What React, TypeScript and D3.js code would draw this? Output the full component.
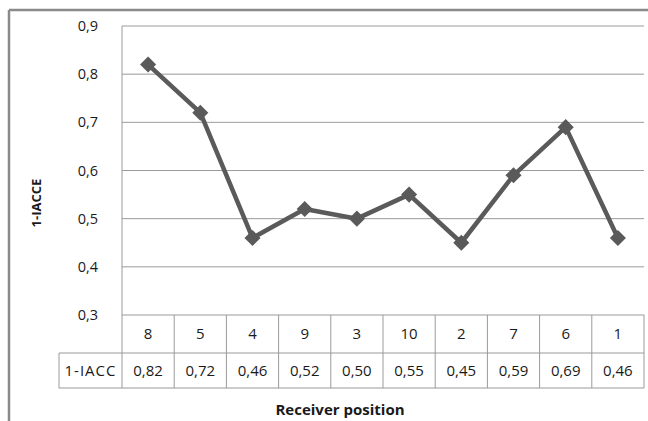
import React from "react";
import * as d3 from "d3";

const categories = ["8", "5", "4", "9", "3", "10", "2", "7", "6", "1"];
const values = [0.82, 0.72, 0.46, 0.52, 0.5, 0.55, 0.45, 0.59, 0.69, 0.46];
const valueLabels = ["0,82", "0,72", "0,46", "0,52", "0,50", "0,55", "0,45", "0,59", "0,69", "0,46"];
const yTicks = [0.3, 0.4, 0.5, 0.6, 0.7, 0.8, 0.9];
const seriesName = "1-IACC";
const yTitle = "1-IACCE";
const xTitle = "Receiver position";

const W = 648, H = 421;
const left = 122, right = 644, top = 26, bottom = 315;
const row1 = 353, row2 = 388, labelLeft = 59;
const font = "'Open Sans', 'DejaVu Sans', sans-serif";

export default function App() {
  const x = d3.scaleBand<string>().domain(categories).range([left, right]);
  const y = d3.scaleLinear().domain([0.3, 0.9]).range([bottom, top]);
  const line = d3.line<number>().x((_, i) => x(categories[i])! + x.bandwidth() / 2).y((d) => y(d));
  const diamond = d3.symbol().type(d3.symbolDiamond2).size(165)();
  const grid = "#9a9a9a";
  const txt = "#1a1a1a";
  return (
    <svg width={W} height={H} style={{ position: "absolute", left: 0, top: 0, background: "#fff" }} fontFamily={font}>
      <rect x={0} y={0} width={W} height={H} fill="#fff" />
      <line x1={9} y1={10} x2={W} y2={10} stroke="#8a8a8a" strokeWidth={2.5} />
      <line x1={9} y1={10} x2={9} y2={H} stroke="#8a8a8a" strokeWidth={2.5} />
      {yTicks.map((t) => (
        <g key={t}>
          <line x1={left} x2={right} y1={y(t)} y2={y(t)} stroke={grid} strokeWidth={1} />
          <text x={88} y={y(t)} dy="0.35em" textAnchor="middle" fontSize={14.5} fill={txt}>
            {d3.format(".1f")(t).replace(".", ",")}
          </text>
        </g>
      ))}
      <line x1={left} x2={left} y1={top} y2={row2} stroke={grid} />
      <line x1={labelLeft} x2={right} y1={row1} y2={row1} stroke={grid} />
      <line x1={labelLeft} x2={right} y1={row2} y2={row2} stroke={grid} />
      <line x1={labelLeft} x2={labelLeft} y1={row1} y2={row2} stroke={grid} />
      {categories.map((c, i) => (
        <g key={c}>
          <line x1={x(c)! + x.bandwidth()} x2={x(c)! + x.bandwidth()} y1={bottom} y2={row2} stroke={grid} />
          <text x={x(c)! + x.bandwidth() / 2} y={(bottom + row1) / 2} dy="0.35em" textAnchor="middle" fontSize={15} fill={txt}>{c}</text>
          <text x={x(c)! + x.bandwidth() / 2} y={(row1 + row2) / 2} dy="0.35em" textAnchor="middle" fontSize={15} fill={txt}>{valueLabels[i]}</text>
        </g>
      ))}
      <text x={(labelLeft + left) / 2} y={(row1 + row2) / 2} dy="0.35em" textAnchor="middle" fontSize={15} letterSpacing={1} fill={txt}>{seriesName}</text>
      <path d={line(values)!} fill="none" stroke="#5a5a5a" strokeWidth={4.5} strokeLinejoin="round" />
      {values.map((v, i) => (
        <path key={i} d={diamond!} transform={`translate(${x(categories[i])! + x.bandwidth() / 2},${y(v)})`} fill="#5a5a5a" />
      ))}
      <text transform={`translate(41,203) rotate(-90)`} textAnchor="middle" fontSize={13} fontWeight="bold" fill={txt}>{yTitle}</text>
      <text x={340} y={415} textAnchor="middle" fontSize={15} fontWeight="bold" fill={txt}>{xTitle}</text>
    </svg>
  );
}
